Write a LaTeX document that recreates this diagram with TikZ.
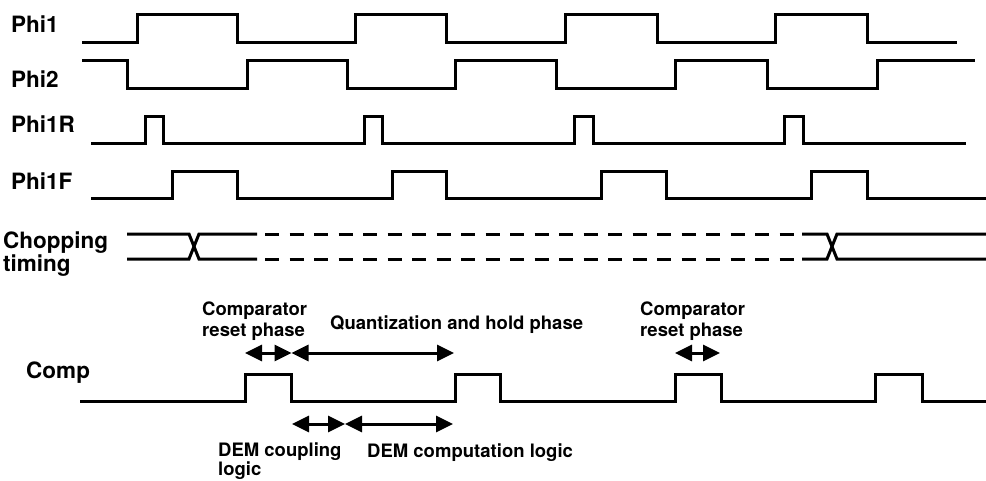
\documentclass[tikz,border=0pt]{standalone}
\usepackage{fontspec}
\setmainfont{TeX Gyre Heros}
\usetikzlibrary{arrows.meta}
\begin{document}
\begin{tikzpicture}[x=1pt,y=-1pt,
  wave/.style={line width=3pt, line join=miter, line cap=butt},
  lbl/.style={font=\fontsize{22.5}{21}\selectfont\bfseries, inner sep=0pt, anchor=base west, align=left},
  ann/.style={font=\fontsize{18.5}{21}\selectfont\bfseries, inner sep=0pt, anchor=base west, align=left},
  dim/.style={line width=3pt, {Triangle[length=17pt,width=16pt]}-{Triangle[length=17pt,width=16pt]}},
  chop/.style={wave, dash pattern=on 14.3pt off 10.2pt}
]
\useasboundingbox (0,0) rectangle (986,480);

% labels
\node[lbl] (lphi1) at (11,32.3) {Phi1};
\node[lbl] (lphi2) at (11,87.3) {Phi2};
\node[lbl] (lphi1r) at (11,132.3) {Phi1R};
\node[lbl] (lphi1f) at (11,189.3) {Phi1F};
\node[lbl] (lchop) at (3,271) {Chopping\\timing};
\node[lbl] (lcomp) at (26,378.3) {Comp};

% Phi1
\draw[wave] (82,42) -- (137,42) -- (137,14) -- (237,14) -- (237,42) -- (355,42) -- (355,14) -- (446,14) -- (446,42) -- (565,42) -- (565,14) -- (657,14) -- (657,42) -- (775,42) -- (775,14) -- (867,14) -- (867,42) -- (957,42);
% Phi2
\draw[wave] (82,60) -- (127,60) -- (127,88) -- (247,88) -- (247,60) -- (347,60) -- (347,88) -- (455,88) -- (455,60) -- (556,60) -- (556,88) -- (675,88) -- (675,60) -- (767,60) -- (767,88) -- (877,88) -- (877,60) -- (975,60);
% Phi1R
\draw[wave] (91,143) -- (145,143) -- (145,116) -- (163,116) -- (163,143) -- (364,143) -- (364,116) -- (382,116) -- (382,143) -- (574,143) -- (574,116) -- (593,116) -- (593,143) -- (784,143) -- (784,116) -- (803,116) -- (803,143) -- (966,143);
% Phi1F
\draw[wave] (91,198) -- (172,198) -- (172,171) -- (237,171) -- (237,198) -- (392,198) -- (392,171) -- (446,171) -- (446,198) -- (601,198) -- (601,171) -- (666,171) -- (666,198) -- (811,198) -- (811,171) -- (867,171) -- (867,198) -- (986,198);
% Chopping timing
\draw[wave] (127,234) -- (189,234) -- (199,259) -- (257,259);
\draw[wave] (127,259) -- (189,259) -- (199,234) -- (257,234);
\draw[chop] (265,234) -- (794.5,234);
\draw[chop] (265,259) -- (794.5,259);
\draw[wave] (802,234) -- (827,234) -- (837,259) -- (986,259);
\draw[wave] (802,259) -- (827,259) -- (837,234) -- (986,234);
% Comp
\draw[wave] (80,401) -- (245,401) -- (245,374) -- (291,374) -- (291,401) -- (455,401) -- (455,374) -- (500,374) -- (500,401) -- (675,401) -- (675,374) -- (721,374) -- (721,401) -- (875,401) -- (875,374) -- (922,374) -- (922,401) -- (986,401);

% arrow end points
\coordinate (a1) at (245,353);
\coordinate (a2) at (291.5,353);
\coordinate (a3) at (454,353);
\coordinate (b1) at (292,424);
\coordinate (b2) at (345,424);
\coordinate (b3) at (453,424);
\coordinate (c1) at (675,353);
\coordinate (c2) at (720,353);
\draw[dim] (a1) -- (a2);
\draw[dim] (a2) -- (a3);
\draw[dim] (b1) -- (b2);
\draw[dim] (b2) -- (b3);
\draw[dim] (c1) -- (c2);

% annotations
\node[ann] (crp1) at (202,336.7) {Comparator\\reset phase};
\node[ann] (qhp) at (330,329.3) {Quantization and hold phase};
\node[ann, font=\fontsize{18.5}{19.5}\selectfont\bfseries] (demc) at (218,475.5) {DEM coupling\\logic};
\node[ann] (demcomp) at (367,457.3) {DEM computation logic};
\node[ann] (crp2) at (640,336.7) {Comparator\\reset phase};
\end{tikzpicture}
\end{document}
